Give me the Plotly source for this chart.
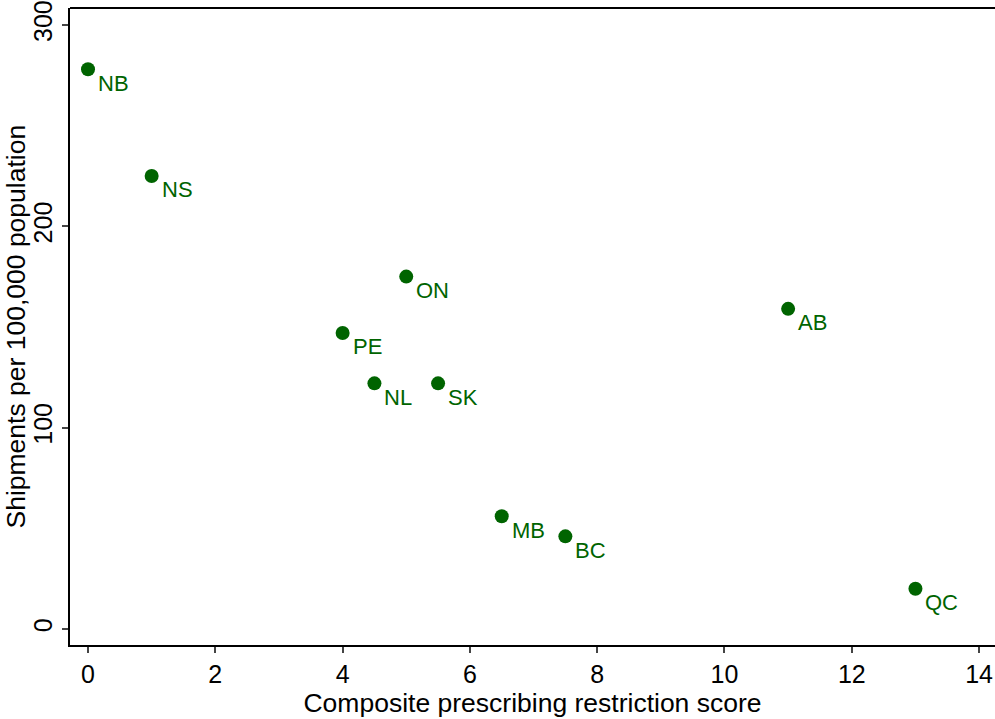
import plotly.graph_objects as go

provinces = ["NB", "NS", "ON", "AB", "PE", "NL", "SK", "MB", "BC", "QC"]
score = [0, 1, 5, 11, 4, 4.5, 5.5, 6.5, 7.5, 13]
shipments = [278, 225, 175, 159, 147, 122, 122, 56, 46, 20]

x_ticks = [0, 2, 4, 6, 8, 10, 12, 14]
y_ticks = [0, 100, 200, 300]

green = "#006400"
font_family = "Liberation Sans, Arial, Helvetica, sans-serif"

fig = go.Figure()
fig.add_trace(go.Scatter(
    x=score, y=shipments, mode="markers",
    marker=dict(color=green, size=14),
    showlegend=False, cliponaxis=False,
))

for name, xv, yv in zip(provinces, score, shipments):
    fig.add_annotation(
        x=xv, y=yv, text=name, showarrow=False,
        xanchor="left", yanchor="middle", xshift=8, yshift=-14,
        font=dict(color=green, size=22, family=font_family),
    )

fig.add_annotation(
    text="Shipments per 100,000 population", xref="paper", yref="paper",
    x=0, y=0.5, xshift=-55, textangle=-90, showarrow=False,
    font=dict(size=26.5, color="black", family=font_family),
    xanchor="center", yanchor="middle",
)

fig.update_layout(
    width=995, height=719,
    margin=dict(l=70, r=0, t=8, b=74),
    plot_bgcolor="white", paper_bgcolor="white",
    font=dict(family=font_family, color="black"),
    xaxis=dict(
        range=[-0.283, 14.25], tickvals=x_ticks, ticktext=[str(v) for v in x_ticks],
        showgrid=False, zeroline=False, showline=True, linecolor="black", linewidth=2,
        ticks="outside", ticklen=6, tickcolor="#444", tickwidth=1.5,
        tickfont=dict(size=25), mirror=False,
        title=dict(text="Composite prescribing restriction score", font=dict(size=26.5), standoff=6),
    ),
    yaxis=dict(
        range=[-7.95, 308.4], tickvals=y_ticks, ticktext=[str(v) for v in y_ticks],
        showgrid=False, zeroline=False, showline=True, linecolor="black", linewidth=2,
        ticks="outside", ticklen=6, tickcolor="#444", tickwidth=1.5,
        tickfont=dict(size=25), tickangle=-90,
    ),
    shapes=[dict(type="line", xref="paper", yref="paper", x0=0, x1=1, y0=1, y1=1,
                 line=dict(color="black", width=2))],
)

fig.write_html("out.html")
